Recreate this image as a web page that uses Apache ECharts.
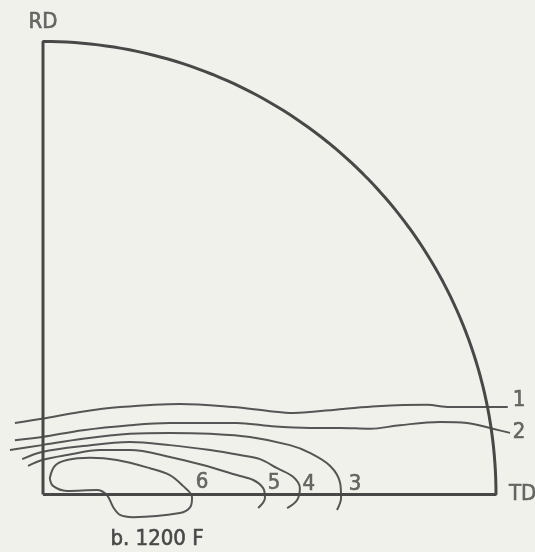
<!DOCTYPE html>
<html>
<head>
<meta charset="utf-8">
<script src="https://cdn.jsdelivr.net/npm/echarts@6/dist/echarts.min.js"></script>
<style>
  html, body { margin: 0; padding: 0; background: #f1f1eb; }
  #chart { width: 535px; height: 552px; }
</style>
</head>
<body>
<div id="chart"></div>
<script>
// Pole figure quadrant, coordinates in percent of the projection radius
// (x toward TD, y toward RD).

const contourLevels = ['1', '2', '3', '4', '5', '6'];

const level1 = [[-6.2, 15.8], [-0.2, 16.7], [8.2, 18.2], [17.0, 19.3], [30.2, 20.0], [41.9, 19.3],
  [50.1, 18.4], [55.2, 18.0], [66.2, 18.9], [73.7, 19.5], [84.8, 19.8], [89.8, 19.3],
  [97.1, 19.3], [102.6, 19.3]];

const level2 = [[-6.2, 12.0], [-0.2, 12.7], [8.8, 14.2], [19.2, 15.3], [28.0, 15.8], [42.8, 15.8],
  [50.1, 15.1], [58.9, 14.7], [65.6, 14.7], [72.2, 14.5], [78.8, 15.3], [87.6, 16.0],
  [93.6, 15.8], [99.3, 14.5], [103.1, 13.6]];

const level3 = [[-7.3, 9.8], [-0.2, 10.9], [8.8, 12.3], [19.2, 13.4], [28.0, 13.6], [36.9, 13.4],
  [45.7, 12.7], [54.5, 10.9], [58.9, 9.2], [63.4, 6.3], [65.6, 2.5], [65.8, -0.8], [64.9, -3.4]];

const level4 = [[-4.6, 7.8], [-0.2, 9.4], [8.8, 10.7], [19.2, 11.6], [28.0, 10.9], [36.9, 9.8],
  [43.5, 8.7], [47.9, 7.8], [51.7, 5.8], [55.2, 3.9], [56.7, 1.4], [56.1, -1.2], [53.9, -3.0]];

const level5 = [[-3.3, 6.3], [-0.2, 7.6], [5.3, 8.7], [12.6, 9.8], [19.2, 9.8], [28.0, 8.3],
  [35.3, 6.5], [42.8, 4.3], [46.4, 3.2], [48.6, 1.4], [49.0, -0.8], [47.5, -3.0]];

// closed contour
const level6 = [[1.5, 3.6], [2.6, 6.3], [5.3, 7.6], [10.4, 8.1], [16.3, 7.6], [23.6, 5.8],
  [28.0, 4.3], [30.9, 1.9], [32.9, -0.6], [32.5, -2.8], [30.2, -4.1], [19.9, -5.0],
  [17.0, -4.5], [15.5, -2.8], [14.1, -0.1], [11.9, 1.0], [5.3, 0.8], [2.2, 1.9], [1.5, 3.6]];

const contours = [level1, level2, level3, level4, level5, level6];

// where each contour number is written
const levelLabelAt = [[105.1, 20.9], [105.1, 13.8], [68.9, 2.3], [58.7, 2.3], [51.0, 2.5], [35.1, 2.8]];

const axisNames = ['RD', 'TD'];
const caption = 'b. 1200 F';

// ---- layout ----
const W = 535, H = 552;
const ORIGIN_PX = [43, 494.5];
const PX_PER_UNIT = 4.53;
const R = 100;

const ink = '#484848';
const font = '"DejaVu Sans Condensed", "Liberation Sans Narrow", sans-serif';
const textStyle = {
  color: ink,
  fontFamily: font,
  fontSize: 22,
  textBorderColor: ink,
  textBorderWidth: 0.6
};

// quadrant outline: RD axis, arc, TD axis
const frame = [[0, 0], [0, R]];
for (let a = 90; a >= 0; a -= 1) {
  const t = a * Math.PI / 180;
  frame.push([R * Math.cos(t), R * Math.sin(t)]);
}
frame.push([R, 0], [0, 0]);

const chart = echarts.init(document.getElementById('chart'), null, { renderer: 'canvas' });

const series = [{
  type: 'line',
  data: frame,
  showSymbol: false,
  silent: true,
  lineStyle: { color: ink, width: 3 },
  z: 3
}];

contours.forEach((pts, i) => {
  series.push({
    type: 'line',
    name: contourLevels[i],
    data: pts,
    showSymbol: false,
    smooth: 0.35,
    silent: true,
    lineStyle: { color: '#555555', width: 2 },
    z: 2
  });
});

series.push({
  type: 'scatter',
  symbolSize: 0,
  silent: true,
  data: levelLabelAt.map((p, i) => ({ value: p, name: contourLevels[i] })),
  label: Object.assign({ show: true, position: 'inside', formatter: '{b}' }, textStyle),
  z: 4
});

series.push({
  type: 'scatter',
  symbolSize: 0,
  silent: true,
  data: [
    { value: [0, R], name: axisNames[0], label: { position: 'top', distance: 8 } },
    { value: [R, 0], name: axisNames[1], label: { position: 'right', distance: 13 } }
  ],
  label: Object.assign({ show: true, formatter: '{b}' }, textStyle),
  z: 4
});

chart.setOption({
  backgroundColor: '#f1f1eb',
  animation: false,
  grid: { left: 0, right: 0, top: 0, bottom: 0 },
  xAxis: {
    type: 'value',
    min: -ORIGIN_PX[0] / PX_PER_UNIT,
    max: (W - ORIGIN_PX[0]) / PX_PER_UNIT,
    show: false
  },
  yAxis: {
    type: 'value',
    min: -(H - ORIGIN_PX[1]) / PX_PER_UNIT,
    max: ORIGIN_PX[1] / PX_PER_UNIT,
    show: false
  },
  graphic: [{
    type: 'text',
    x: 157,
    y: 539,
    style: {
      text: caption,
      fill: ink,
      stroke: ink,
      lineWidth: 0.6,
      font: '22px ' + font,
      align: 'center',
      verticalAlign: 'middle'
    }
  }],
  series: series
});
</script>
</body>
</html>
